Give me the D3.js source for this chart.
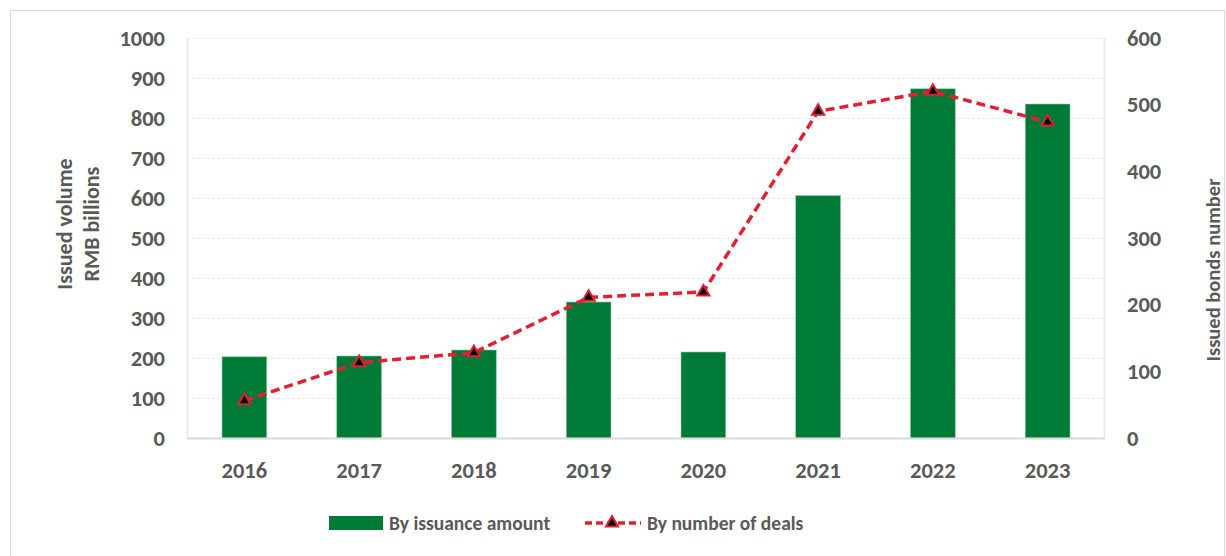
<!DOCTYPE html>
<meta charset="utf-8">
<script src="https://d3js.org/d3.v7.min.js"></script>
<style>
  body { margin: 0; background: #fff; }
  text { font-family: Carlito, Lato, "Open Sans", sans-serif; font-weight: bold; fill: #595959; }
</style>
<div id="chart"></div>
<script>
// chart data
var years = ["2016", "2017", "2018", "2019", "2020", "2021", "2022", "2023"];
var amount = [203, 205, 220, 340, 215, 606, 873, 835];   // RMB billions
var deals = [56, 113, 128, 211, 219, 490, 520, 474];      // number of bonds
var leftTicks = [0, 100, 200, 300, 400, 500, 600, 700, 800, 900, 1000];
var rightTicks = [0, 100, 200, 300, 400, 500, 600];

var W = 1226, H = 556;
var margin = {top: 38, right: 121, bottom: 118, left: 187};
var width = W - margin.left - margin.right,
    height = H - margin.top - margin.bottom;

var svg = d3.select("#chart").append("svg")
    .attr("width", W)
    .attr("height", H);

// outer frame
svg.append("rect")
    .attr("x", 10.5).attr("y", 10.5)
    .attr("width", W - 12).attr("height", H - 8)
    .attr("fill", "none").attr("stroke", "#d9d9d9");

var g = svg.append("g")
    .attr("transform", "translate(" + margin.left + "," + margin.top + ")");

var x = d3.scaleBand().domain(years).range([0, width]).paddingInner(0.61).paddingOuter(0.305);
var yL = d3.scaleLinear().domain([0, 1000]).range([height, 0]);
var yR = d3.scaleLinear().domain([0, 600]).range([height, 0]);

// gridlines
g.append("g")
  .selectAll("line")
  .data(leftTicks.slice(1))
  .enter().append("line")
    .attr("x1", 0).attr("x2", width)
    .attr("y1", function(d) { return Math.round(yL(d)) + 0.5; })
    .attr("y2", function(d) { return Math.round(yL(d)) + 0.5; })
    .attr("stroke", "#e6e6e6")
    .attr("stroke-dasharray", "3,2");

// plot area side borders
g.append("line").attr("x1", 0.5).attr("x2", 0.5).attr("y1", 0).attr("y2", height)
  .attr("stroke", "#efebe0").attr("stroke-width", 2);
g.append("line").attr("x1", width - 0.5).attr("x2", width - 0.5).attr("y1", 0).attr("y2", height)
  .attr("stroke", "#efebe0").attr("stroke-width", 2);
g.append("line").attr("x1", 0).attr("x2", width).attr("y1", 0.5).attr("y2", 0.5)
  .attr("stroke", "#f4f1ea");

// bars
g.append("g")
  .selectAll("rect")
  .data(amount)
  .enter().append("rect")
    .attr("x", function(d, i) { return x(years[i]); })
    .attr("y", function(d) { return yL(d); })
    .attr("width", x.bandwidth())
    .attr("height", function(d) { return height - yL(d); })
    .attr("fill", "#007a37")
    .attr("stroke", "#8fc9a3")
    .attr("stroke-width", 0.6);

// x axis line
g.append("line").attr("x1", 0).attr("x2", width).attr("y1", height + 0.5).attr("y2", height + 0.5)
  .attr("stroke", "#d9d9d9").attr("stroke-width", 2);

// deals line
var line = d3.line()
    .x(function(d, i) { return x(years[i]) + x.bandwidth() / 2; })
    .y(function(d) { return yR(d); });

g.append("path")
    .datum(deals)
    .attr("d", line)
    .attr("fill", "none")
    .attr("stroke", "#e41f32")
    .attr("stroke-width", 3.5)
    .attr("stroke-dasharray", "9,5");

var tri = d3.symbol().type(d3.symbolTriangle).size(65);
g.append("g")
  .selectAll("path")
  .data(deals)
  .enter().append("path")
    .attr("d", tri)
    .attr("transform", function(d, i) {
      return "translate(" + (x(years[i]) + x.bandwidth() / 2) + "," + yR(d) + ")";
    })
    .attr("fill", "#000")
    .attr("stroke", "#e41f32")
    .attr("stroke-width", 2);

// axes
var axisL = g.append("g")
    .call(d3.axisLeft(yL).tickValues(leftTicks).tickFormat(d3.format("d")).tickSize(0).tickPadding(22));
var axisR = g.append("g")
    .attr("transform", "translate(" + width + ",0)")
    .call(d3.axisRight(yR).tickValues(rightTicks).tickFormat(d3.format("d")).tickSize(0).tickPadding(22));
var axisB = g.append("g")
    .attr("transform", "translate(0," + height + ")")
    .call(d3.axisBottom(x).tickSize(0).tickPadding(24));

[axisL, axisR, axisB].forEach(function(a) {
  a.select(".domain").remove();
  a.selectAll("text").style("font-size", "22.5px").attr("fill", "#595959");
});

// axis titles
var lt = svg.append("text")
    .attr("transform", "translate(76," + (margin.top + 186) + ") rotate(-90)")
    .attr("text-anchor", "middle")
    .style("font-size", "22px");
lt.append("tspan").attr("x", 0).attr("dy", "-0.2em").text("Issued volume");
lt.append("tspan").attr("x", 0).attr("dy", "1.25em").text("RMB billions");

svg.append("text")
    .attr("transform", "translate(1220," + (margin.top + 232) + ") rotate(-90)")
    .attr("text-anchor", "middle")
    .style("font-size", "20.5px")
    .text("Issued bonds number");

// legend
var leg = svg.append("g").attr("transform", "translate(0,523)");
leg.append("rect").attr("x", 329).attr("y", -7).attr("width", 54).attr("height", 14).attr("fill", "#007a37");
leg.append("text").attr("x", 389).attr("y", 7).style("font-size", "19.5px").text("By issuance amount");
leg.append("line").attr("x1", 585).attr("x2", 641).attr("y1", 0).attr("y2", 0)
  .attr("stroke", "#e41f32").attr("stroke-width", 3.5).attr("stroke-dasharray", "7,4");
leg.append("path").attr("d", tri).attr("transform", "translate(612,0)")
  .attr("fill", "#000").attr("stroke", "#e41f32").attr("stroke-width", 2);
leg.append("text").attr("x", 647).attr("y", 7).style("font-size", "19.5px").text("By number of deals");
</script>
